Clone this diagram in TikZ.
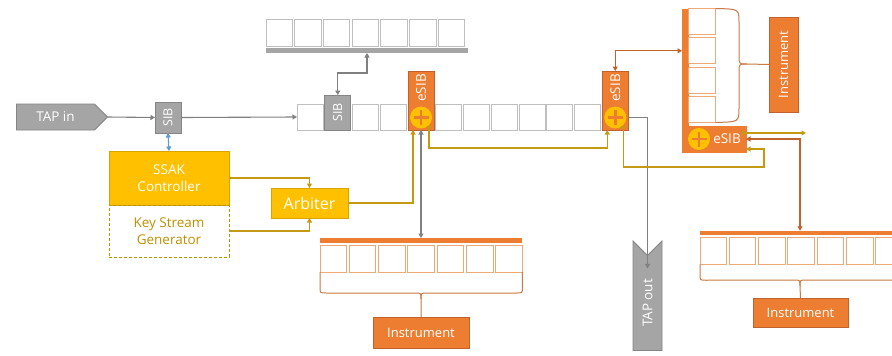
\documentclass[tikz,border=0pt]{standalone}
\usepackage{fontspec}
\setmainfont{Open Sans}
\usepackage{graphicx}
\usetikzlibrary{arrows.meta,calc,shapes.symbols}

\definecolor{orangefill}{HTML}{ED7D31}
\definecolor{orangedark}{HTML}{C0622B}
\definecolor{cellorange}{HTML}{F0A874}
\definecolor{bracecolor}{HTML}{C97A45}
\definecolor{goldfill}{HTML}{FFC000}
\definecolor{goldline}{HTML}{C49A14}
\definecolor{goldtext}{HTML}{BF9000}
\definecolor{greyfill}{HTML}{A5A5A5}
\definecolor{greydark}{HTML}{858585}
\definecolor{greyline}{HTML}{808080}
\definecolor{cellgray}{HTML}{BFBFBF}
\definecolor{bluelink}{HTML}{5B9BD5}

\tikzset{
  box/.style={inner sep=0pt, outer sep=0pt, line width=0.8pt},
  chaincell/.style={box, draw=cellgray, line width=1pt, fill=white, minimum width=26pt, minimum height=26pt},
  instcell/.style={box, draw=cellorange, line width=1pt, fill=white, minimum width=26.5pt, minimum height=26.5pt},
  sibbox/.style={box, draw=greydark, fill=greyfill, text=white, font=\fontsize{12.5}{14}\selectfont, minimum width=26pt},
  esibbox/.style={box, draw=orangedark, fill=orangefill},
  esibtext/.style={inner sep=0pt, text=white, font=\fontsize{13.5}{15}\selectfont},
  plusdot/.style={circle, box, fill=goldfill, minimum size=22pt,
    path picture={
      \draw[orangefill, line width=2.8pt]
        ($(path picture bounding box.center)+(-7.5,0)$) -- ($(path picture bounding box.center)+(7.5,0)$)
        ($(path picture bounding box.center)+(0,-7.5)$) -- ($(path picture bounding box.center)+(0,7.5)$);}},
  instbox/.style={box, draw=orangedark, fill=orangefill, text=white, font=\fontsize{13}{15}\selectfont},
  barbox/.style={box, minimum height=5pt},
  tapshape/.style={box, signal, signal pointer angle=90, draw=greydark, fill=greyfill, text=white, font=\fontsize{13.5}{15}\selectfont},
  greyconn/.style={draw=greyline, line width=1.1pt},
  goldconn/.style={draw=goldline, line width=1.1pt},
  brownconn/.style={draw=orangedark, line width=1.1pt},
  blueconn/.style={draw=bluelink, line width=1.1pt},
  bracepath/.style={draw=bracecolor, line width=1pt},
  >={Triangle[length=4.5pt,width=5pt]},
  startmark/.style={{Triangle[reversed,length=4pt,width=5pt]}->}
}

\begin{document}
\begin{tikzpicture}[x=1pt,y=-1pt]
\useasboundingbox (0,0) rectangle (892,356);
\fill[white] (0,0) rectangle (892,356);
\clip (0,0) rectangle (892,356);

% ---- TAP in, first SIB, SSAK controller and arbiter ----
\node[tapshape, signal to=east, minimum width=91pt, minimum height=26pt] (tapin) at (55.5,117) {TAP in};
\node[sibbox, minimum height=31pt] (sib1) at (168,117.5) {\rotatebox{90}{SIB}};
\node[box, draw=goldfill!85!black, fill=goldfill, text=white, font=\fontsize{13.5}{16.5}\selectfont,
      align=center, minimum width=120pt, minimum height=54pt] (ssak) at (169,178) {SSAK\\Controller};
\node[box, draw=goldtext, dashed, dash pattern=on 3pt off 2pt, text=goldtext, font=\fontsize{13.5}{16.5}\selectfont,
      align=center, minimum width=120pt, minimum height=52pt] (ksg) at (169,231) {Key Stream\\Generator};
\node[box, draw=goldfill!85!black, fill=goldfill, text=white, font=\fontsize{16}{18}\selectfont,
      minimum width=77pt, minimum height=30pt] (arb) at (309.5,203) {Arbiter};

% ---- main scan chain ----
\foreach \k in {0,2,3,5,6,7,8,9,10}
  \node[chaincell] (c\k) at ({310+27.75*\k},117) {};
\node[sibbox, minimum height=35pt] (sib2) at (337.75,112.5) {\rotatebox{90}{SIB}};

\node[esibbox, minimum width=26pt, minimum height=59pt] (esib1) at (421,100.5) {};
\node[esibtext] (esib1t) at (421,88) {\rotatebox{90}{eSIB}};
\node[plusdot] (p1) at (421,117.5) {};

\node[esibbox, minimum width=26pt, minimum height=59pt] (esib2) at (615.25,100.5) {};
\node[esibtext] (esib2t) at (615.25,88) {\rotatebox{90}{eSIB}};
\node[plusdot] (p2) at (615.25,117.5) {};

% ---- register above the chain ----
\foreach \k in {0,...,6}
  \node[chaincell, minimum width=26.5pt, minimum height=27pt] (u\k) at ({279.25+28.7*\k},32.5) {};
\node[barbox, fill=greyfill, minimum width=202pt] (bar1) at (367,50.5) {};

% ---- instrument below the first eSIB ----
\node[barbox, fill=orangefill, minimum width=202pt] (bar2) at (421,240.5) {};
\foreach \k in {0,...,6}
  \node[instcell, minimum height=27pt] (i2c\k) at ({333.25+29.33*\k},258.5) {};
\node[instbox, minimum width=96pt, minimum height=31pt] (inst2) at (421,332.5) {Instrument};
\draw[bracepath] (i2c0.south west) -- ++(0,15) .. controls +(0,6) .. ++(6,6) -- (415,293)
      .. controls (421,293) .. (421,299) -- (inst2.north);
\draw[bracepath] (i2c6.south east) -- ++(0,15) .. controls +(0,6) .. ++(-6,6) -- (427,293)
      .. controls (421,293) .. (421,299);

% ---- TAP out ----
\node[tapshape, signal to=nowhere, signal from=north, minimum width=29pt, minimum height=100pt] (tapout) at (647.5,303) {\rotatebox{90}{TAP out}};

% ---- instrument with its own eSIB (upper right) ----
\node[barbox, fill=orangefill, minimum width=6pt, minimum height=143pt, draw=orangefill] (bar3) at (685,80.5) {};
\foreach \k in {1,...,4}
  \node[instcell, minimum width=27pt, minimum height=26pt] (i3c\k) at (702,{21.5+29.3*(\k-1)}) {};
\node[esibbox, draw=orangefill, minimum width=59pt, minimum height=26pt] (esib3) at (716.5,139) {};
\node[plusdot] (p3) at (699,139) {};
\node[esibtext] (esib3t) at (727,139) {eSIB};
\node[instbox, minimum width=29pt, minimum height=95pt] (inst3) at (783.5,64.5) {\rotatebox{90}{Instrument}};
\draw[bracepath] (i3c1.north east) .. controls (739,9) .. (739,22) -- (739,56)
      .. controls (739,64) .. (747,64) -- (inst3.west);
\draw[bracepath] (i3c4.south east) .. controls (739,122) .. (739,108) -- (739,72)
      .. controls (739,64) .. (747,64);

% ---- instrument at the lower right ----
\node[barbox, fill=orangefill, minimum width=200pt, minimum height=4.5pt] (bar4) at (800,233) {};
\foreach \k in {0,...,6}
  \node[instcell] (i4c\k) at ({713.25+29.3*\k},251) {};
\node[instbox, minimum width=95pt, minimum height=29pt] (inst4) at (800.5,312.5) {Instrument};
\draw[bracepath] (i4c0.south west) -- ++(0,10) .. controls +(0,6) .. ++(6,6) -- (794,280)
      .. controls (800,280) .. (800,286) -- (inst4.north);
\draw[bracepath] (900,264) -- ++(0,10) .. controls +(0,6) .. ++(-6,6) -- (806,280)
      .. controls (800,280) .. (800,286);

\coordinate (out3) at (806,133);

% ---- connectors ----
\draw[greyconn, ->] (tapin.east) -- (sib1.west);
\draw[greyconn, ->] (sib1.east) -- (c0.west);
\draw[blueconn, <->] (sib1.south) -- (ssak.north);
\draw[goldconn, ->] (ssak.east) -| (arb.north);
\draw[goldconn, ->] (ksg.east) -| (arb.south);
\draw[goldconn, ->] (arb.east) -| ($(esib1.south)+(-8,0)$);
\draw[greyconn, <->] (esib1.south) -- (bar2.north);
\draw[greyconn, <->] (bar1.south) -- ++(0,20) -| (sib2.north);
\draw[goldconn, startmark] ($(esib1.south)+(8,-4)$) -- ++(0,22) -| ($(esib2.south)+(-8,0)$);
\draw[greyconn, ->] (p2 -| esib2.east) -| ($(tapout.north)+(0,13)$);
\draw[brownconn, <->] (esib2.north) |- (i3c2 -| bar3.west);
\draw[goldconn, startmark] ($(esib2.south)+(8,-4)$) |- ($(esib3.south east)+(18,15)$) |- ($(esib3.south east)+(0,-3)$);
\draw[goldconn, startmark] ($(esib3.north east)+(-4,7)$) -- (out3);
\draw[brownconn, <->] (esib3.east) -| (bar4.north);
\end{tikzpicture}
\end{document}
